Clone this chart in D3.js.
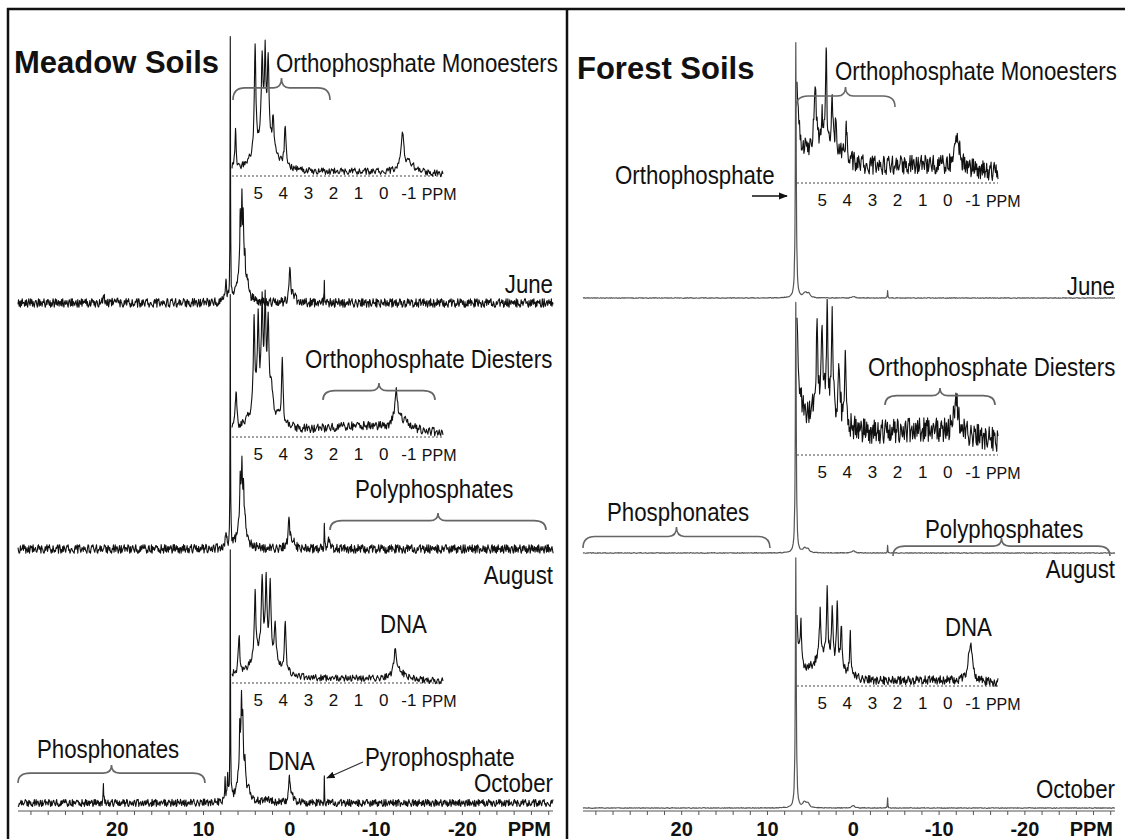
<!DOCTYPE html>
<html>
<head>
<meta charset="utf-8">
<script src="https://cdn.jsdelivr.net/npm/d3@7"></script>
<style>
  body { margin: 0; background: #fff; }
  text { font-family: "Liberation Sans", Arial, sans-serif; fill: #111; }
</style>
</head>
<body>
<div id="chart"></div>
<script>
var svgWidth = 1125;
var svgHeight = 839;

// ---- data ----
var months = ["June", "August", "October"];
var mainTicks = [20, 10, 0, -10, -20];
var insetTicks = [5, 4, 3, 2, 1, 0, -1];

// peaks: [ppm, intensity, half width (ppm)]
var meadowJunePeaks = [[21.5, 2.5, 0.1], [20.2, 2, 0.1], [7.4, 10, 0.07], [6.9, 106, 0.03],
    [5.6, 24, 0.35], [5.75, 14, 0.05], [5.55, 19, 0.05], [5.4, 16, 0.05], [5.2, 8, 0.07], [4.9, 5, 0.12],
    [0.0, 14, 0.1], [-0.4, 3, 0.3], [-4.0, 10, 0.03]];
var meadowAugustPeaks = [[7.4, 6, 0.08], [6.9, 100, 0.03],
    [5.6, 20, 0.35], [5.75, 12, 0.05], [5.55, 16, 0.05], [5.35, 13, 0.05], [5.15, 6, 0.07],
    [0.1, 11, 0.12], [-0.3, 3, 0.3], [-4.0, 10, 0.03], [-4.5, 3, 0.2]];
var meadowOctoberPeaks = [[21.6, 7, 0.04], [7.5, 9, 0.05], [7.2, 11, 0.05], [6.9, 99, 0.03],
    [5.6, 24, 0.35], [5.8, 14, 0.05], [5.6, 17, 0.05], [5.45, 15, 0.05], [5.2, 8, 0.06], [4.8, 4, 0.1],
    [2.5, 1.5, 0.3], [0.05, 11, 0.1], [-0.3, 2, 0.3], [-4.0, 10, 0.025]];

var forestJunePeaks = [[6.7, 102, 0.06], [5.6, 2, 0.25], [5.2, 1.5, 0.2], [0.0, 0.6, 0.2], [-4.0, 3, 0.03]];
var forestAugustPeaks = [[6.7, 100, 0.06], [5.7, 1.8, 0.2], [5.3, 1.5, 0.2], [0.0, 0.8, 0.25], [-4.0, 3, 0.03]];
var forestOctoberPeaks = [[6.7, 100, 0.06], [5.7, 2.2, 0.2], [5.3, 1.8, 0.2], [0.0, 1.0, 0.2], [-4.0, 4, 0.03]];

var meadowJuneInset = [[6.3, 12, 0.1], [5.9, 30, 0.03], [4.75, 30, 0.45],
    [5.12, 81, 0.035], [4.84, 61, 0.035], [4.72, 61, 0.035], [4.6, 61, 0.035], [4.4, 24, 0.04], [3.92, 31, 0.035],
    [1.0, 3, 3], [-0.74, 27, 0.07], [-1.0, 7, 0.3]];
var meadowAugustInset = [[6.3, 10, 0.15], [5.88, 30, 0.03], [4.8, 32, 0.45],
    [5.16, 70, 0.035], [5.0, 60, 0.035], [4.84, 64, 0.035], [4.72, 67, 0.035], [4.6, 58, 0.035], [4.48, 18, 0.04], [4.04, 48, 0.035],
    [0.8, 8, 2.5], [-0.5, 26, 0.08], [-0.8, 6, 0.3]];
var meadowOctoberInset = [[6.4, 12, 0.2], [5.76, 29, 0.035], [4.75, 28, 0.5],
    [5.12, 51, 0.035], [4.84, 52, 0.035], [4.68, 49, 0.035], [4.52, 51, 0.035], [4.32, 25, 0.04], [3.92, 38, 0.035],
    [1.0, 3, 3], [-0.46, 20, 0.08], [-0.7, 4, 0.3]];

var forestJuneInset = [[6.1, 120, 0.1], [5.0, 25, 0.9],
    [5.28, 43, 0.05], [5.0, 20, 0.04], [4.84, 76, 0.025], [4.6, 31, 0.04], [4.45, 20, 0.04], [4.04, 29, 0.03],
    [0.8, 13, 3.5], [-0.38, 25, 0.1]];
var forestAugustInset = [[6.1, 180, 0.1], [5.0, 28, 0.9],
    [5.2, 59, 0.04], [5.0, 57, 0.04], [4.8, 88, 0.03], [4.6, 69, 0.035], [4.32, 41, 0.04], [4.08, 48, 0.035],
    [0.8, 18, 3.5], [-0.34, 26, 0.1]];
var forestOctoberInset = [[6.1, 90, 0.1], [5.84, 30, 0.03], [4.9, 22, 0.6],
    [5.08, 35, 0.035], [4.8, 50, 0.03], [4.6, 38, 0.035], [4.4, 50, 0.03], [4.24, 34, 0.035], [3.88, 32, 0.035],
    [0.5, 4, 3], [-0.9, 28, 0.1]];

// noise level of each trace (intensity units)
var meadowMainNoise = [1.7, 1.7, 1.4];
var forestMainNoise = [0.12, 0.12, 0.12];
var meadowInsetNoise = [2.4, 3.2, 2.4];
var forestInsetNoise = [7, 9, 3.2];

// baseline texture copied by hand, digits 0-9
var noiseDigits = ("3816072945517283069429481630577305918264165940273884270513960593824716" +
    "6281940573473068519291642573082075391846584926013713985726047620183459" +
    "3957046128048671923562138947508541027369276953041841326589079504172863" +
    "1687934025532106847908794136527463205981205879631469104358273245987160" +
    "8736120549159267403840813579266429850713785316924003172846955964031782" +
    "2190746358867251309435069281471745860293923847150660572938144815037692" +
    "0379648251712635948054981027632631784059890456137217628359403450917286" +
    "908324615763479182052785604931" +
    "7248019563396157280480153642972679430158540386721919327580466087213594" +
    "4519086732086435297137251496809146728305259836014770315948624867021539" +
    "1350879246829461570367192430850452937618598317042632075869148671042395" +
    "1495863720603271845927543091869318645027410659287375892316400263478915" +
    "5847016392192085376463751908423018462579945620731827839450617564820193" +
    "0941367258462915380781976045323852716049643028917");

// ---- layout ----
var svg = d3.select("#chart")
    .append("svg")
    .attr("width", svgWidth)
    .attr("height", svgHeight);

var mainY = d3.scaleLinear().domain([0, 100]).range([0, 250]);
var insetY = d3.scaleLinear().domain([0, 100]).range([0, 130]);

function buildTrace(peaks, x0, x1, step, amp, offset) {
    var n = Math.round((x0 - x1) / step);
    var pts = d3.range(n + 1).map(i => x0 - i * step);
    peaks.forEach(p => {
        [-4, -2, -1, -0.5, 0, 0.5, 1, 2, 4].forEach(k => {
            var v = p[0] + k * p[2];
            if (v <= x0 && v >= x1) pts.push(v);
        });
    });
    pts.sort((a, b) => b - a);
    return pts.map(v => {
        var i = Math.round((x0 - v) / step);
        var nz = (+noiseDigits[(i + offset) % noiseDigits.length] - 4.5) / 4.5;
        var s = d3.sum(peaks, p => p[1] / (1 + Math.pow((v - p[0]) / p[2], 2)));
        return { ppm: v, val: s + nz * amp };
    });
}

function bracePath(x1, x2, yTop, yBot) {
    var xm = (x1 + x2) / 2;
    var ym = yTop + (yBot - yTop) * 0.45;
    return `M${x1},${yBot} Q${x1},${ym} ${x1 + 12},${ym} L${xm - 8},${ym} Q${xm},${ym} ${xm},${yTop}` +
        ` Q${xm},${ym} ${xm + 8},${ym} L${x2 - 12},${ym} Q${x2},${ym} ${x2},${yBot}`;
}

function label(x, y, txt, size, anchor, weight) {
    svg.append("text")
        .attr("x", x).attr("y", y)
        .attr("dominant-baseline", "central")
        .attr("text-anchor", anchor || "start")
        .attr("font-size", size)
        .attr("font-weight", weight || "normal")
        .text(txt);
}

// the annotation lettering in the figure is a narrow sans
function narrow(x, y, txt, anchor) {
    svg.append("text")
        .attr("transform", `translate(${x},${y}) scale(0.89,1)`)
        .attr("dominant-baseline", "central")
        .attr("text-anchor", anchor || "start")
        .attr("font-size", 25)
        .text(txt);
}

function brace(x1, x2, yTop, yBot) {
    svg.append("path")
        .attr("d", bracePath(x1, x2, yTop, yBot))
        .attr("fill", "none")
        .attr("stroke", "#666")
        .attr("stroke-width", 1.6);
}

var panels = [
    {
        title: "Meadow Soils", titleX: 14, titleY: 62, left: 18, right: 553,
        main: [meadowJunePeaks, meadowAugustPeaks, meadowOctoberPeaks], mainNoise: meadowMainNoise,
        mainBase: [303, 549, 803], mainColor: "#111", mainStep: 0.07,
        inset: [meadowJuneInset, meadowAugustInset, meadowOctoberInset], insetNoise: meadowInsetNoise,
        insetBase: [176, 437, 683], insetLeft: 232, insetRight: 443, insetDomain: [6.04, -2.36], insetStep: 0.03,
        monthY: [285, 576, 784]
    },
    {
        title: "Forest Soils", titleX: 577, titleY: 68, left: 583, right: 1115,
        main: [forestJunePeaks, forestAugustPeaks, forestOctoberPeaks], mainNoise: forestMainNoise,
        mainBase: [298, 553, 808], mainColor: "#555", mainStep: 0.1,
        inset: [forestJuneInset, forestAugustInset, forestOctoberInset], insetNoise: forestInsetNoise,
        insetBase: [183, 455, 686], insetLeft: 797, insetRight: 998, insetDomain: [6.0, -2.0], insetStep: 0.025,
        monthY: [287, 570, 790]
    }
];

var line = d3.line().curve(d3.curveLinear);

panels.forEach((pn, pi) => {
    var xMain = d3.scaleLinear().domain([31.5, -30.5]).range([pn.left, pn.right]);
    var xInset = d3.scaleLinear().domain(pn.insetDomain).range([pn.insetLeft, pn.insetRight]);

    // main spectra
    pn.main.forEach((peaks, k) => {
        var tr = buildTrace(peaks, 31.5, -30.5, pn.mainStep, pn.mainNoise[k], k * 131 + pi * 57);
        svg.append("path")
            .attr("d", line(tr.map(d => [xMain(d.ppm), pn.mainBase[k] - mainY(d.val)])))
            .attr("fill", "none")
            .attr("stroke", pn.mainColor)
            .attr("stroke-width", pi == 0 ? 1.1 : 1.2)
            .attr("stroke-linejoin", "round");
        narrow(pn.right, pn.monthY[k], months[k], "end");
    });

    // insets
    pn.inset.forEach((peaks, k) => {
        var base = pn.insetBase[k];
        svg.append("line")
            .attr("x1", pn.insetLeft).attr("x2", pn.insetRight)
            .attr("y1", base).attr("y2", base)
            .attr("stroke", "#444").attr("stroke-width", 1)
            .attr("stroke-dasharray", "2,2");
        var tr = buildTrace(peaks, pn.insetDomain[0], pn.insetDomain[1], pn.insetStep, pn.insetNoise[k], k * 173 + pi * 89 + 20);
        svg.append("path")
            .attr("d", line(tr.map(d => [xInset(d.ppm), base - insetY(d.val)])))
            .attr("fill", "none")
            .attr("stroke", "#111")
            .attr("stroke-width", 1.1)
            .attr("stroke-linejoin", "round");
        insetTicks.forEach(t => label(xInset(t), base + 17, t, 17, "middle"));
        label(xInset(-1) + 13, base + 18, "PPM", 16, "start");
    });

    // bottom axis
    var axisY = 811;
    var axis = svg.append("g");
    axis.append("line")
        .attr("x1", pn.left).attr("x2", pn.right)
        .attr("y1", axisY).attr("y2", axisY)
        .attr("stroke", "#555").attr("stroke-width", 1);
    d3.range(30, -31, -2).forEach(t => {
        axis.append("line")
            .attr("x1", xMain(t)).attr("x2", xMain(t))
            .attr("y1", axisY).attr("y2", axisY + 4)
            .attr("stroke", "#555").attr("stroke-width", 1);
    });
    mainTicks.forEach(t => label(xMain(t), 829, t, 20, "middle", "bold"));
    label(pn.right - 2, 829, "PPM", 20, "end", "bold");

    label(pn.titleX, pn.titleY, pn.title, 31, "start", "bold");
});

// ---- annotations, meadow ----
narrow(276, 64, "Orthophosphate Monoesters");
brace(233, 330, 78, 100);
narrow(305, 360, "Orthophosphate Diesters");
brace(323, 435, 383, 400);
narrow(355, 490, "Polyphosphates");
brace(330, 546, 513, 530);
narrow(380, 625, "DNA");
narrow(37, 750, "Phosphonates");
brace(18, 205, 765, 783);
narrow(268, 762, "DNA");
narrow(365, 758, "Pyrophosphate");

// ---- annotations, forest ----
narrow(835, 72, "Orthophosphate Monoesters");
brace(796, 895, 87, 107);
narrow(615, 176, "Orthophosphate");
narrow(868, 368, "Orthophosphate Diesters");
brace(885, 995, 388, 405);
narrow(607, 513, "Phosphonates");
brace(583, 770, 527, 548);
narrow(925, 530, "Polyphosphates");
brace(893, 1110, 538, 556);
narrow(945, 628, "DNA");

// arrows
svg.append("defs").append("marker")
    .attr("id", "head")
    .attr("viewBox", "0 0 10 10")
    .attr("refX", 9).attr("refY", 5)
    .attr("markerWidth", 7).attr("markerHeight", 7)
    .attr("orient", "auto")
    .append("path").attr("d", "M0,1 L10,5 L0,9 z").attr("fill", "#111");

svg.append("line")
    .attr("x1", 752).attr("y1", 196).attr("x2", 787).attr("y2", 196)
    .attr("stroke", "#111").attr("stroke-width", 1.3)
    .attr("marker-end", "url(#head)");
svg.append("line")
    .attr("x1", 363).attr("y1", 762).attr("x2", 327).attr("y2", 778)
    .attr("stroke", "#333").attr("stroke-width", 1.2)
    .attr("marker-end", "url(#head)");

// frame
svg.append("line").attr("x1", 7).attr("x2", svgWidth).attr("y1", 9).attr("y2", 9)
    .attr("stroke", "#111").attr("stroke-width", 2.5);
svg.append("line").attr("x1", 8).attr("x2", 8).attr("y1", 8).attr("y2", svgHeight)
    .attr("stroke", "#111").attr("stroke-width", 2.5);
svg.append("line").attr("x1", 567).attr("x2", 567).attr("y1", 8).attr("y2", svgHeight)
    .attr("stroke", "#111").attr("stroke-width", 2.5);
</script>
</body>
</html>
